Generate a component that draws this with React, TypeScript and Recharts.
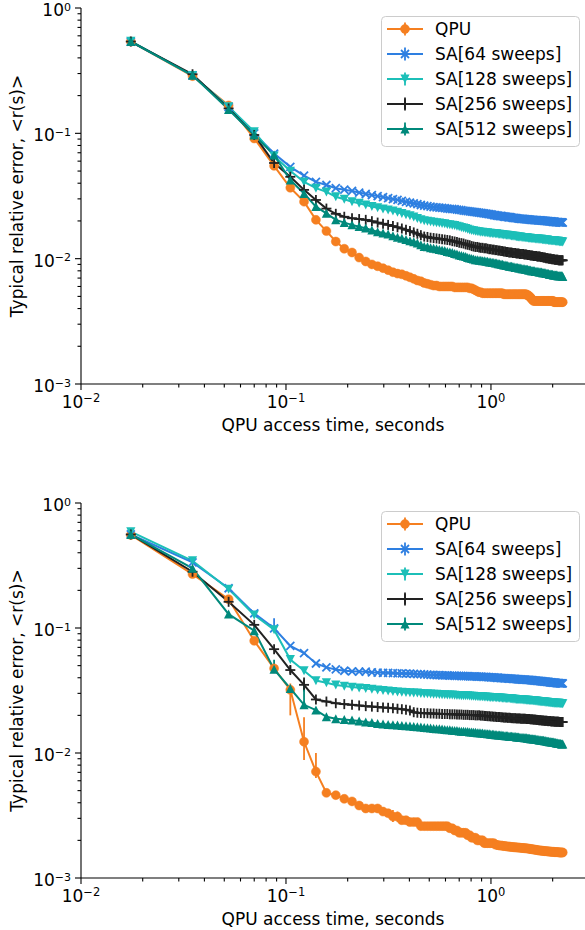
import React from 'react';
import { LineChart, Line, XAxis, YAxis, ErrorBar, Legend, Label } from 'recharts';

// QPU access time in milliseconds (one read-out step = 17.5 ms)
const timesMs = [
  17.5, 35, 52.5, 70, 87.5, 105, 122.5, 140, 157.5, 175,
  192.5, 210, 227.5, 245, 262.5, 280, 297.5, 315, 332.5, 350,
  367.5, 385, 402.5, 420, 437.5, 455, 472.5, 490, 507.5, 525,
  542.5, 560, 577.5, 595, 612.5, 630, 647.5, 665, 682.5, 700,
  717.5, 735, 752.5, 770, 787.5, 805, 822.5, 840, 857.5, 875,
  892.5, 910, 927.5, 945, 962.5, 980, 997.5, 1015, 1032.5, 1050,
  1067.5, 1085, 1102.5, 1120, 1137.5, 1155, 1172.5, 1190, 1207.5, 1225,
  1242.5, 1260, 1277.5, 1295, 1312.5, 1330, 1347.5, 1365, 1382.5, 1400,
  1417.5, 1435, 1452.5, 1470, 1487.5, 1505, 1522.5, 1540, 1557.5, 1575,
  1592.5, 1610, 1627.5, 1645, 1662.5, 1680, 1697.5, 1715, 1732.5, 1750,
  1767.5, 1785, 1802.5, 1820, 1837.5, 1855, 1872.5, 1890, 1907.5, 1925,
  1942.5, 1960, 1977.5, 1995, 2012.5, 2030, 2047.5, 2065, 2082.5, 2100,
  2117.5, 2135, 2152.5, 2170, 2187.5, 2205, 2222.5, 2240,
];

// ---------- top panel ----------
const topQpu = [
  0.54, 0.286, 0.167, 0.091, 0.055, 0.0368, 0.0285, 0.0204, 0.0166, 0.0137,
  0.012, 0.0112, 0.0102, 0.0095, 0.009, 0.0087, 0.0084, 0.0081, 0.0078, 0.0076,
  0.0075, 0.0073, 0.0071, 0.0069, 0.0067, 0.0066, 0.0064, 0.0063, 0.0062, 0.0061,
  0.0061, 0.006, 0.006, 0.006, 0.006, 0.006, 0.006, 0.0059, 0.0059, 0.0059,
  0.0059, 0.0059, 0.0059, 0.0059, 0.0058, 0.0058, 0.0057, 0.0056, 0.0055, 0.0054,
  0.0054, 0.0053, 0.0053, 0.0053, 0.0053, 0.0053, 0.0053, 0.0053, 0.0053, 0.0053,
  0.0053, 0.0053, 0.0053, 0.0053, 0.0053, 0.0052, 0.0052, 0.0052, 0.0052, 0.0052,
  0.0052, 0.0052, 0.0052, 0.0052, 0.0052, 0.0052, 0.0052, 0.0052, 0.0052, 0.0052,
  0.0052, 0.0052, 0.0052, 0.0052, 0.0052, 0.0051, 0.0051, 0.005, 0.0049, 0.0048,
  0.0047, 0.0046, 0.0046, 0.0046, 0.0046, 0.0046, 0.0046, 0.0046, 0.0046, 0.0046,
  0.0046, 0.0046, 0.0046, 0.0046, 0.0046, 0.0046, 0.0046, 0.0046, 0.0046, 0.0046,
  0.0046, 0.0046, 0.0046, 0.0046, 0.0046, 0.0045, 0.0045, 0.0045, 0.0045, 0.0045,
  0.0045, 0.0045, 0.0045, 0.0045, 0.0045, 0.0045, 0.0045, 0.0045,
];
const topSa64 = [
  0.54, 0.29, 0.162, 0.1, 0.069, 0.054, 0.046, 0.041, 0.0387, 0.0365,
  0.0355, 0.0347, 0.0337, 0.0328, 0.0322, 0.0316, 0.031, 0.0304, 0.0299, 0.0294,
  0.0289, 0.0284, 0.028, 0.0276, 0.0272, 0.0268, 0.0265, 0.0263, 0.026, 0.0258,
  0.0257, 0.0255, 0.0254, 0.0253, 0.0251, 0.025, 0.0249, 0.0248, 0.0246, 0.0245,
  0.0244, 0.0242, 0.0241, 0.024, 0.0238, 0.0237, 0.0236, 0.0235, 0.0234, 0.0233,
  0.0232, 0.0231, 0.023, 0.0229, 0.0228, 0.0227, 0.0226, 0.0225, 0.0223, 0.0222,
  0.0221, 0.022, 0.0219, 0.0219, 0.0218, 0.0217, 0.0216, 0.0216, 0.0215, 0.0214,
  0.0214, 0.0213, 0.0212, 0.0212, 0.0211, 0.0211, 0.021, 0.0209, 0.0209, 0.0208,
  0.0208, 0.0208, 0.0207, 0.0207, 0.0206, 0.0206, 0.0206, 0.0205, 0.0205, 0.0204,
  0.0204, 0.0204, 0.0203, 0.0203, 0.0203, 0.0203, 0.0202, 0.0202, 0.0202, 0.0202,
  0.0201, 0.0201, 0.0201, 0.02, 0.02, 0.02, 0.0199, 0.0199, 0.0199, 0.0198,
  0.0198, 0.0198, 0.0198, 0.0197, 0.0197, 0.0197, 0.0197, 0.0196, 0.0196, 0.0196,
  0.0196, 0.0196, 0.0195, 0.0195, 0.0195, 0.0195, 0.0195, 0.0194,
];
const topSa128 = [
  0.545, 0.29, 0.163, 0.103, 0.066, 0.05, 0.041, 0.0365, 0.0341, 0.0312,
  0.0298, 0.0285, 0.0277, 0.0268, 0.0261, 0.0255, 0.025, 0.0245, 0.024, 0.0235,
  0.023, 0.0225, 0.022, 0.0215, 0.021, 0.0205, 0.0201, 0.0199, 0.0197, 0.0196,
  0.0194, 0.0193, 0.0191, 0.019, 0.0188, 0.0187, 0.0185, 0.0184, 0.0182, 0.018,
  0.0178, 0.0176, 0.0174, 0.0172, 0.017, 0.0168, 0.0167, 0.0166, 0.0165, 0.0164,
  0.0163, 0.0163, 0.0162, 0.0161, 0.0161, 0.016, 0.016, 0.0159, 0.0159, 0.0158,
  0.0158, 0.0157, 0.0157, 0.0156, 0.0156, 0.0155, 0.0155, 0.0154, 0.0154, 0.0153,
  0.0153, 0.0152, 0.0152, 0.0151, 0.0151, 0.015, 0.015, 0.0149, 0.0149, 0.0149,
  0.0148, 0.0148, 0.0148, 0.0147, 0.0147, 0.0147, 0.0146, 0.0146, 0.0146, 0.0145,
  0.0145, 0.0145, 0.0145, 0.0144, 0.0144, 0.0144, 0.0144, 0.0143, 0.0143, 0.0143,
  0.0143, 0.0142, 0.0142, 0.0142, 0.0141, 0.0141, 0.0141, 0.0141, 0.014, 0.014,
  0.014, 0.014, 0.0139, 0.0139, 0.0139, 0.0139, 0.0139, 0.0138, 0.0138, 0.0138,
  0.0138, 0.0138, 0.0137, 0.0137, 0.0137, 0.0137, 0.0137, 0.0136,
];
const topSa256 = [
  0.54, 0.296, 0.158, 0.097, 0.058, 0.045, 0.0354, 0.0294, 0.0251, 0.0228,
  0.0216, 0.021, 0.0207, 0.0204, 0.0199, 0.0194, 0.019, 0.0186, 0.0182, 0.0178,
  0.0174, 0.017, 0.0166, 0.0162, 0.0158, 0.0154, 0.015, 0.0149, 0.0147, 0.0146,
  0.0145, 0.0144, 0.0143, 0.0142, 0.0141, 0.014, 0.0138, 0.0137, 0.0136, 0.0134,
  0.0133, 0.0132, 0.013, 0.0129, 0.0128, 0.0126, 0.0125, 0.0124, 0.0124, 0.0123,
  0.0122, 0.0122, 0.0121, 0.0121, 0.012, 0.0119, 0.0119, 0.0118, 0.0118, 0.0117,
  0.0117, 0.0116, 0.0116, 0.0115, 0.0115, 0.0114, 0.0114, 0.0113, 0.0113, 0.0112,
  0.0112, 0.0112, 0.0111, 0.0111, 0.0111, 0.011, 0.011, 0.011, 0.0109, 0.0109,
  0.0109, 0.0109, 0.0108, 0.0108, 0.0108, 0.0107, 0.0107, 0.0107, 0.0106, 0.0106,
  0.0106, 0.0105, 0.0105, 0.0105, 0.0105, 0.0104, 0.0104, 0.0104, 0.0104, 0.0103,
  0.0103, 0.0103, 0.0102, 0.0102, 0.0102, 0.0101, 0.0101, 0.0101, 0.01, 0.01,
  0.01, 0.01, 0.0099, 0.0099, 0.0099, 0.0099, 0.0098, 0.0098, 0.0098, 0.0098,
  0.0098, 0.0097, 0.0097, 0.0097, 0.0097, 0.0097, 0.0097, 0.0097,
];
const topSa512 = [
  0.54, 0.29, 0.155, 0.097, 0.067, 0.0424, 0.0331, 0.026, 0.023, 0.0204,
  0.0194, 0.0186, 0.018, 0.0175, 0.0169, 0.0164, 0.016, 0.0157, 0.0152, 0.0148,
  0.0145, 0.0142, 0.0139, 0.0136, 0.0133, 0.0129, 0.0125, 0.0124, 0.0122, 0.0121,
  0.012, 0.0118, 0.0117, 0.0116, 0.0114, 0.0113, 0.0112, 0.011, 0.0109, 0.0107,
  0.0106, 0.0105, 0.0104, 0.0102, 0.0101, 0.01, 0.0099, 0.0098, 0.0098, 0.0097,
  0.0097, 0.0096, 0.0096, 0.0095, 0.0095, 0.0094, 0.0094, 0.0093, 0.0093, 0.0092,
  0.0092, 0.0091, 0.0091, 0.009, 0.009, 0.0089, 0.0089, 0.0088, 0.0088, 0.0087,
  0.0087, 0.0087, 0.0086, 0.0086, 0.0085, 0.0085, 0.0085, 0.0084, 0.0084, 0.0084,
  0.0083, 0.0083, 0.0083, 0.0082, 0.0082, 0.0082, 0.0081, 0.0081, 0.0081, 0.008,
  0.008, 0.008, 0.008, 0.0079, 0.0079, 0.0079, 0.0079, 0.0078, 0.0078, 0.0078,
  0.0078, 0.0077, 0.0077, 0.0077, 0.0077, 0.0076, 0.0076, 0.0076, 0.0076, 0.0075,
  0.0075, 0.0075, 0.0075, 0.0075, 0.0074, 0.0074, 0.0074, 0.0074, 0.0074, 0.0074,
  0.0073, 0.0073, 0.0073, 0.0073, 0.0073, 0.0073, 0.0073, 0.0072,
];
// error bars: [step number, below, above]
const topQpuErr = [[5, 0.004, 0.003], [7, 0.001, 0.003]];
const noErr = [];

// ---------- bottom panel ----------
const botQpu = [
  0.555, 0.27, 0.17, 0.079, 0.0475, 0.032, 0.0123, 0.0071, 0.0048, 0.0046,
  0.0043, 0.0041, 0.0038, 0.0036, 0.0036, 0.0036, 0.0034, 0.0033, 0.0031, 0.0031,
  0.0029, 0.0029, 0.0028, 0.0028, 0.0028, 0.0026, 0.0026, 0.0026, 0.0026, 0.0026,
  0.0026, 0.0026, 0.0026, 0.0026, 0.0026, 0.0025, 0.0025, 0.0024, 0.0024, 0.0023,
  0.0023, 0.0023, 0.0023, 0.0022, 0.0022, 0.0021, 0.0021, 0.0021, 0.002, 0.002,
  0.002, 0.002, 0.0019, 0.0019, 0.0019, 0.0019, 0.0019, 0.0019, 0.0019, 0.00185,
  0.00184, 0.00183, 0.00182, 0.00182, 0.00181, 0.0018, 0.0018, 0.00179, 0.00179, 0.00178,
  0.00178, 0.00177, 0.00177, 0.00176, 0.00176, 0.00176, 0.00175, 0.00175, 0.00175, 0.00174,
  0.00174, 0.00174, 0.00173, 0.00173, 0.00173, 0.00172, 0.00172, 0.00171, 0.00171, 0.0017,
  0.0017, 0.00169, 0.00169, 0.00168, 0.00168, 0.00167, 0.00167, 0.00166, 0.00166, 0.00166,
  0.00165, 0.00165, 0.00165, 0.00164, 0.00164, 0.00164, 0.00164, 0.00163, 0.00163, 0.00163,
  0.00163, 0.00162, 0.00162, 0.00162, 0.00162, 0.00162, 0.00161, 0.00161, 0.00161, 0.00161,
  0.00161, 0.00161, 0.0016, 0.0016, 0.0016, 0.0016, 0.0016, 0.0016,
];
const botSa64 = [
  0.56, 0.335, 0.208, 0.131, 0.0995, 0.072, 0.063, 0.052, 0.0484, 0.0466,
  0.0455, 0.045, 0.0448, 0.0447, 0.0442, 0.044, 0.0438, 0.0437, 0.0436, 0.0434,
  0.0433, 0.0432, 0.0431, 0.043, 0.0428, 0.0427, 0.0425, 0.0424, 0.0422, 0.0421,
  0.042, 0.0419, 0.0418, 0.0418, 0.0417, 0.0416, 0.0416, 0.0415, 0.0414, 0.0414,
  0.0413, 0.0413, 0.0412, 0.0412, 0.0411, 0.0411, 0.041, 0.041, 0.0409, 0.0409,
  0.0408, 0.0407, 0.0406, 0.0406, 0.0405, 0.0404, 0.0403, 0.0403, 0.0402, 0.0401,
  0.04, 0.04, 0.0399, 0.0398, 0.0397, 0.0397, 0.0396, 0.0395, 0.0395, 0.0394,
  0.0393, 0.0393, 0.0392, 0.0391, 0.0391, 0.039, 0.0389, 0.0389, 0.0388, 0.0388,
  0.0387, 0.0387, 0.0386, 0.0386, 0.0385, 0.0385, 0.0384, 0.0384, 0.0383, 0.0382,
  0.0382, 0.0381, 0.038, 0.038, 0.0379, 0.0378, 0.0378, 0.0377, 0.0376, 0.0376,
  0.0375, 0.0374, 0.0374, 0.0373, 0.0372, 0.0372, 0.0371, 0.037, 0.037, 0.0369,
  0.0368, 0.0368, 0.0367, 0.0366, 0.0366, 0.0365, 0.0365, 0.0364, 0.0364, 0.0363,
  0.0363, 0.0362, 0.0362, 0.0361, 0.0361, 0.036, 0.036, 0.036,
];
const botSa128 = [
  0.59, 0.345, 0.205, 0.127, 0.097, 0.056, 0.0455, 0.038, 0.0365, 0.035,
  0.0343, 0.0337, 0.0332, 0.0328, 0.0324, 0.032, 0.0317, 0.0314, 0.0311, 0.0308,
  0.0307, 0.0306, 0.0304, 0.0303, 0.0302, 0.03, 0.0299, 0.0298, 0.0297, 0.0295,
  0.0295, 0.0294, 0.0293, 0.0293, 0.0292, 0.0291, 0.0291, 0.029, 0.0289, 0.0289,
  0.0288, 0.0288, 0.0287, 0.0287, 0.0286, 0.0285, 0.0285, 0.0284, 0.0284, 0.0283,
  0.0282, 0.0282, 0.0281, 0.0281, 0.028, 0.028, 0.0279, 0.0279, 0.0278, 0.0278,
  0.0277, 0.0277, 0.0276, 0.0276, 0.0275, 0.0275, 0.0274, 0.0274, 0.0273, 0.0273,
  0.0272, 0.0272, 0.0271, 0.027, 0.027, 0.0269, 0.0269, 0.0268, 0.0268, 0.0267,
  0.0267, 0.0266, 0.0266, 0.0266, 0.0265, 0.0265, 0.0265, 0.0264, 0.0264, 0.0263,
  0.0263, 0.0262, 0.0262, 0.0261, 0.0261, 0.026, 0.026, 0.0259, 0.0259, 0.0258,
  0.0258, 0.0257, 0.0257, 0.0256, 0.0256, 0.0255, 0.0255, 0.0255, 0.0254, 0.0254,
  0.0253, 0.0253, 0.0253, 0.0252, 0.0252, 0.0252, 0.0251, 0.0251, 0.0251, 0.025,
  0.025, 0.025, 0.025, 0.0249, 0.0249, 0.0249, 0.0249, 0.0248,
];
const botSa256 = [
  0.56, 0.282, 0.162, 0.106, 0.0677, 0.0461, 0.0351, 0.0268, 0.0258, 0.025,
  0.0246, 0.0243, 0.024, 0.0237, 0.0235, 0.0233, 0.0231, 0.023, 0.0228, 0.0226,
  0.0224, 0.0222, 0.0219, 0.0212, 0.021, 0.0209, 0.0208, 0.0208, 0.0207, 0.0207,
  0.0206, 0.0206, 0.0205, 0.0205, 0.0205, 0.0204, 0.0204, 0.0204, 0.0203, 0.0203,
  0.0203, 0.0202, 0.0202, 0.0202, 0.0201, 0.0201, 0.0201, 0.02, 0.02, 0.02,
  0.0199, 0.0199, 0.0198, 0.0198, 0.0197, 0.0197, 0.0196, 0.0196, 0.0195, 0.0195,
  0.0194, 0.0194, 0.0194, 0.0193, 0.0193, 0.0192, 0.0192, 0.0192, 0.0191, 0.0191,
  0.0191, 0.019, 0.019, 0.019, 0.019, 0.0189, 0.0189, 0.0189, 0.0189, 0.0188,
  0.0188, 0.0188, 0.0188, 0.0188, 0.0187, 0.0187, 0.0187, 0.0187, 0.0186, 0.0186,
  0.0186, 0.0185, 0.0185, 0.0185, 0.0184, 0.0184, 0.0184, 0.0183, 0.0183, 0.0183,
  0.0182, 0.0182, 0.0182, 0.0181, 0.0181, 0.0181, 0.0181, 0.018, 0.018, 0.018,
  0.018, 0.0179, 0.0179, 0.0179, 0.0179, 0.0179, 0.0178, 0.0178, 0.0178, 0.0178,
  0.0178, 0.0178, 0.0177, 0.0177, 0.0177, 0.0177, 0.0177, 0.0177,
];
const botSa512 = [
  0.56, 0.3, 0.129, 0.095, 0.0466, 0.0328, 0.0243, 0.022, 0.0195, 0.0188,
  0.0185, 0.0183, 0.018, 0.0177, 0.0175, 0.0172, 0.017, 0.0169, 0.0168, 0.0167,
  0.0166, 0.0165, 0.0164, 0.0163, 0.0162, 0.0161, 0.016, 0.0159, 0.0158, 0.0157,
  0.0156, 0.0156, 0.0155, 0.0154, 0.0153, 0.0153, 0.0152, 0.0151, 0.0151, 0.015,
  0.0149, 0.0149, 0.0148, 0.0148, 0.0147, 0.0147, 0.0146, 0.0146, 0.0145, 0.0145,
  0.0144, 0.0144, 0.0143, 0.0143, 0.0142, 0.0142, 0.0141, 0.0141, 0.0141, 0.014,
  0.014, 0.0139, 0.0139, 0.0139, 0.0138, 0.0138, 0.0137, 0.0137, 0.0137, 0.0136,
  0.0136, 0.0136, 0.0135, 0.0135, 0.0135, 0.0134, 0.0134, 0.0134, 0.0133, 0.0133,
  0.0133, 0.0133, 0.0132, 0.0132, 0.0132, 0.0131, 0.0131, 0.0131, 0.013, 0.013,
  0.013, 0.0129, 0.0129, 0.0129, 0.0128, 0.0128, 0.0128, 0.0127, 0.0127, 0.0127,
  0.0126, 0.0126, 0.0126, 0.0125, 0.0125, 0.0125, 0.0124, 0.0124, 0.0124, 0.0123,
  0.0123, 0.0123, 0.0122, 0.0122, 0.0122, 0.0121, 0.0121, 0.0121, 0.012, 0.012,
  0.012, 0.0119, 0.0119, 0.0119, 0.0119, 0.0118, 0.0118, 0.0118,
];
const botQpuErr = [[6, 0.012, 0.004], [7, 0.0035, 0.007], [8, 0.0008, 0.0029], [19, 0.0003, 0.0004], [20, 0.0003, 0.0003]];
const botSa64Err = [[5, 0.005, 0.02]];
const botSa256Err = [[6, 0.003, 0.004], [7, 0.004, 0.005]];
const botSa512Err = [[5, 0.003, 0.009], [7, 0.001, 0.01]];

const seriesNames = ['QPU', 'SA[64 sweeps]', 'SA[128 sweeps]', 'SA[256 sweeps]', 'SA[512 sweeps]'];
const seriesKeys = ['qpu', 'sa64', 'sa128', 'sa256', 'sa512'];
const seriesColors = ['#f57f20', '#2e7fe1', '#1cbfb8', '#222222', '#00897b'];
const seriesShapes = ['o', 'x', 'v', '+', '^'];

const xTicks = [
  0.01, 0.02, 0.03, 0.04, 0.05, 0.06, 0.07, 0.08, 0.09,
  0.1, 0.2, 0.3, 0.4, 0.5, 0.6, 0.7, 0.8, 0.9, 1, 2,
];
const yTicks = [
  0.001, 0.002, 0.003, 0.004, 0.005, 0.006, 0.007, 0.008, 0.009,
  0.01, 0.02, 0.03, 0.04, 0.05, 0.06, 0.07, 0.08, 0.09,
  0.1, 0.2, 0.3, 0.4, 0.5, 0.6, 0.7, 0.8, 0.9, 1,
];
const X_DOMAIN = [0.01, 2.876];
const Y_DOMAIN = [0.001, 1];
const FONT = '"DejaVu Sans", sans-serif';

function buildTable(series, errs) {
  return timesMs.map((ms, i) => {
    const row = { t: ms / 1000 };
    seriesKeys.forEach((k, j) => {
      row[k] = series[j][i];
      const e = errs[j].find((r) => r[0] === i + 1);
      row[k + 'Err'] = e ? [e[1], e[2]] : 0;
    });
    return row;
  });
}

const topData = buildTable([topQpu, topSa64, topSa128, topSa256, topSa512], [topQpuErr, noErr, noErr, noErr, noErr]);
const botData = buildTable([botQpu, botSa64, botSa128, botSa256, botSa512], [botQpuErr, botSa64Err, noErr, botSa256Err, botSa512Err]);

function MarkerShape({ shape, color, cx, cy }) {
  switch (shape) {
    case 'o':
      return <circle cx={cx} cy={cy} r={4.5} fill={color} stroke={color} strokeWidth={0.5} />;
    case 'x':
      return (
        <g stroke={color} strokeWidth={1.8}>
          <line x1={cx - 4} y1={cy - 4} x2={cx + 4} y2={cy + 4} />
          <line x1={cx - 4} y1={cy + 4} x2={cx + 4} y2={cy - 4} />
        </g>
      );
    case 'v':
      return <polygon points={`${cx - 4.6},${cy - 4.4} ${cx + 4.6},${cy - 4.4} ${cx},${cy + 4.6}`} fill={color} />;
    case '+':
      return (
        <g stroke={color} strokeWidth={1.8}>
          <line x1={cx - 5} y1={cy} x2={cx + 5} y2={cy} />
          <line x1={cx} y1={cy - 5} x2={cx} y2={cy + 5} />
        </g>
      );
    case '^':
      return <polygon points={`${cx - 4.6},${cy + 4.4} ${cx + 4.6},${cy + 4.4} ${cx},${cy - 4.6}`} fill={color} />;
    default:
      return null;
  }
}

const makeDot = (shape, color) => (props) => {
  const { cx, cy, index } = props;
  if (cx == null || cy == null) return <g key={`d${index}`} />;
  return (
    <g key={`d${index}`}>
      <MarkerShape shape={shape} color={color} cx={cx} cy={cy} />
    </g>
  );
};

const isDecade = (v) => Math.abs(Math.log10(v) - Math.round(Math.log10(v))) < 1e-6;
const expText = (v) => {
  const e = Math.round(Math.log10(v));
  return e < 0 ? `\u2212${-e}` : `${e}`;
};

function XTick(props) {
  const { x, y, payload } = props;
  const v = payload.value;
  const major = isDecade(v);
  return (
    <g>
      <line x1={x} y1={y} x2={x} y2={y + (major ? 6 : 3.5)} stroke="#000" strokeWidth={1.1} />
      {major && (
        <text x={x} y={y + 24} textAnchor="middle" fontSize={17} fontFamily={FONT} fill="#000">
          <tspan>10</tspan>
          <tspan dy={-6.5} fontSize={11.5}>{expText(v)}</tspan>
        </text>
      )}
    </g>
  );
}

function YTick(props) {
  const { x, y, payload } = props;
  const v = payload.value;
  const major = isDecade(v);
  return (
    <g>
      <line x1={x} y1={y} x2={x - (major ? 6 : 3.5)} y2={y} stroke="#000" strokeWidth={1.1} />
      {major && (
        <text x={x - 10} y={y + 8} textAnchor="end" fontSize={17} fontFamily={FONT} fill="#000">
          <tspan>10</tspan>
          <tspan dy={-5.5} fontSize={11}>{expText(v)}</tspan>
        </text>
      )}
    </g>
  );
}

function LegendBox() {
  return (
    <svg width={200} height={132} style={{ display: 'block' }}>
      <rect x={0.5} y={0.5} width={198} height={130} rx={4} ry={4} fill="#ffffff" fillOpacity={0.8} stroke="#cccccc" strokeWidth={1} />
      {seriesNames.map((name, i) => {
        const cy = 13 + 25 * i;
        return (
          <g key={name}>
            <line x1={6} y1={cy} x2={42} y2={cy} stroke={seriesColors[i]} strokeWidth={2} />
            <line x1={24} y1={cy - 6.5} x2={24} y2={cy + 6.5} stroke={seriesColors[i]} strokeWidth={1.8} />
            <MarkerShape shape={seriesShapes[i]} color={seriesColors[i]} cx={24} cy={cy} />
            <text x={54} y={cy + 6} fontSize={17} fontFamily={FONT} fill="#000">{name}</text>
          </g>
        );
      })}
    </svg>
  );
}

function YAxisTitle(props) {
  const { viewBox } = props;
  const cy = viewBox.y + viewBox.height / 2;
  return (
    <text x={22.5} y={cy} transform={`rotate(-90 22.5 ${cy})`} textAnchor="middle" fontSize={17} fontFamily={FONT} fill="#000">
      {'Typical relative error, <r(s)>'}
    </text>
  );
}

function XAxisTitle(props) {
  const { viewBox } = props;
  const cx = viewBox.x + viewBox.width / 2;
  return (
    <text x={cx} y={viewBox.y + 47} textAnchor="middle" fontSize={17} fontFamily={FONT} fill="#000">
      QPU access time, seconds
    </text>
  );
}

function Panel({ data, height, xAxisHeight, errKeys }) {
  return (
    <LineChart width={585} height={height} data={data} margin={{ top: 8, right: 0, bottom: 0, left: 0 }}>
      <XAxis
        dataKey="t"
        type="number"
        scale="log"
        domain={X_DOMAIN}
        allowDataOverflow
        ticks={xTicks}
        interval={0}
        tick={<XTick />}
        tickLine={false}
        tickSize={0}
        tickMargin={0}
        height={xAxisHeight}
        axisLine={{ stroke: '#000', strokeWidth: 1.1 }}
      >
        <Label content={<XAxisTitle />} />
      </XAxis>
      <XAxis
        xAxisId="top"
        orientation="top"
        dataKey="t"
        type="number"
        scale="log"
        domain={X_DOMAIN}
        allowDataOverflow
        tick={false}
        tickLine={false}
        height={0}
        axisLine={{ stroke: '#000', strokeWidth: 1.1 }}
      />
      <YAxis
        type="number"
        scale="log"
        domain={Y_DOMAIN}
        allowDataOverflow
        ticks={yTicks}
        interval={0}
        tick={<YTick />}
        tickLine={false}
        tickSize={0}
        tickMargin={0}
        width={81}
        axisLine={{ stroke: '#000', strokeWidth: 1.1 }}
      >
        <Label content={<YAxisTitle />} />
      </YAxis>
      {seriesKeys.map((k, i) => (
        <Line
          key={k}
          dataKey={k}
          name={seriesNames[i]}
          type="linear"
          stroke={seriesColors[i]}
          strokeWidth={2}
          dot={makeDot(seriesShapes[i], seriesColors[i])}
          activeDot={false}
          isAnimationActive={false}
        >
          {errKeys[i] && (
            <ErrorBar dataKey={k + 'Err'} direction="y" width={0} stroke={seriesColors[i]} strokeWidth={1.8} isAnimationActive={false} />
          )}
        </Line>
      ))}
      <Legend
        layout="horizontal"
        verticalAlign="middle"
        align="center"
        wrapperStyle={{ left: 381, top: 16, width: 200, height: 132 }}
        content={() => <LegendBox />}
      />
    </LineChart>
  );
}

export default function App() {
  return (
    <div style={{ position: 'absolute', left: 0, top: 0, width: 585, height: 930, background: '#fff', fontFamily: FONT, overflow: 'hidden' }}>
      <div style={{ position: 'absolute', left: 0, top: 0 }}>
        <Panel data={topData} height={495} xAxisHeight={111} errKeys={[true, false, false, false, false]} />
      </div>
      <div style={{ position: 'absolute', left: 0, top: 495 }}>
        <Panel data={botData} height={435} xAxisHeight={52} errKeys={[true, true, false, true, true]} />
      </div>
    </div>
  );
}
